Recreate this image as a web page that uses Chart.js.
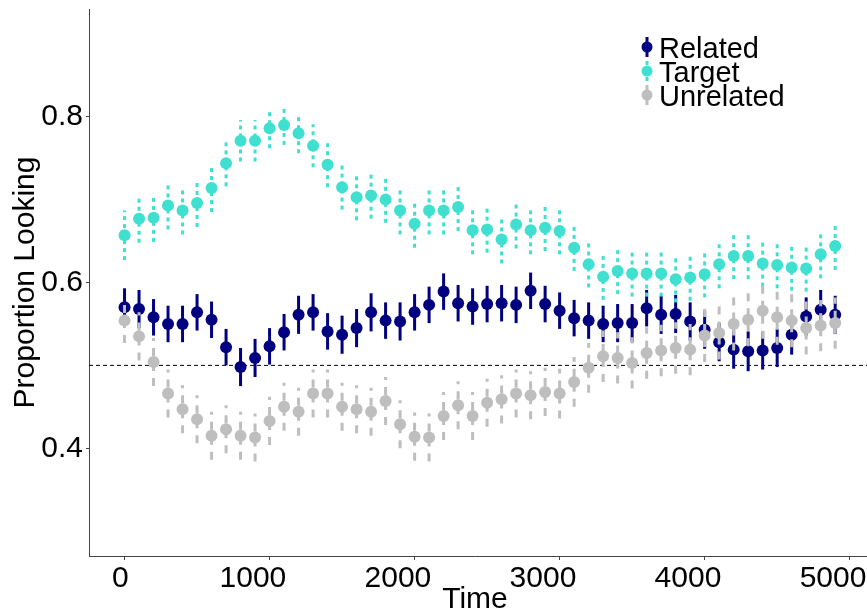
<!DOCTYPE html>
<html>
<head>
<meta charset="utf-8">
<script src="https://cdn.jsdelivr.net/npm/chart.js@4"></script>
<style>
html, body { margin: 0; padding: 0; background: #fff; }
</style>
</head>
<body>
<canvas id="myChart" width="867" height="615"></canvas>
<script>
// data
const times = [0, 100, 200, 300, 400, 500, 600, 700, 800, 900,
    1000, 1100, 1200, 1300, 1400, 1500, 1600, 1700, 1800, 1900,
    2000, 2100, 2200, 2300, 2400, 2500, 2600, 2700, 2800, 2900,
    3000, 3100, 3200, 3300, 3400, 3500, 3600, 3700, 3800, 3900,
    4000, 4100, 4200, 4300, 4400, 4500, 4600, 4700, 4800, 4900];

const related = [0.570, 0.568, 0.558, 0.550, 0.550, 0.564, 0.555, 0.522, 0.498, 0.509,
    0.523, 0.540, 0.561, 0.564, 0.541, 0.537, 0.545, 0.564, 0.554, 0.553,
    0.564, 0.573, 0.589, 0.575, 0.571, 0.574, 0.575, 0.573, 0.590, 0.574,
    0.566, 0.557, 0.554, 0.550, 0.551, 0.551, 0.569, 0.561, 0.562, 0.553,
    0.543, 0.528, 0.519, 0.517, 0.518, 0.521, 0.537, 0.559, 0.567, 0.561];
const relatedErr = [0.023, 0.023, 0.022, 0.022, 0.022, 0.022, 0.022, 0.022, 0.023, 0.023,
    0.022, 0.022, 0.023, 0.022, 0.022, 0.023, 0.023, 0.023, 0.022, 0.023,
    0.022, 0.022, 0.022, 0.022, 0.022, 0.022, 0.022, 0.022, 0.022, 0.022,
    0.022, 0.022, 0.022, 0.022, 0.023, 0.023, 0.022, 0.023, 0.023, 0.023,
    0.023, 0.023, 0.023, 0.024, 0.023, 0.023, 0.024, 0.023, 0.024, 0.023];

const target = [0.657, 0.677, 0.678, 0.693, 0.687, 0.696, 0.714, 0.744, 0.771, 0.771,
    0.786, 0.790, 0.780, 0.765, 0.742, 0.715, 0.703, 0.705, 0.700, 0.687,
    0.671, 0.687, 0.687, 0.691, 0.663, 0.664, 0.652, 0.670, 0.663, 0.666,
    0.662, 0.642, 0.622, 0.607, 0.614, 0.611, 0.611, 0.611, 0.604, 0.606,
    0.610, 0.622, 0.632, 0.632, 0.623, 0.621, 0.618, 0.617, 0.634, 0.644];
const targetErr = [0.030, 0.029, 0.029, 0.029, 0.029, 0.029, 0.029, 0.028, 0.025, 0.025,
    0.024, 0.024, 0.024, 0.026, 0.027, 0.027, 0.028, 0.028, 0.028, 0.029,
    0.029, 0.029, 0.029, 0.029, 0.029, 0.028, 0.029, 0.029, 0.029, 0.028,
    0.028, 0.028, 0.028, 0.028, 0.028, 0.028, 0.028, 0.028, 0.028, 0.028,
    0.028, 0.029, 0.028, 0.028, 0.028, 0.028, 0.028, 0.028, 0.029, 0.029];

const unrelated = [0.554, 0.535, 0.504, 0.466, 0.447, 0.435, 0.415, 0.423, 0.415, 0.413,
    0.433, 0.450, 0.444, 0.466, 0.466, 0.450, 0.447, 0.444, 0.457, 0.429,
    0.414, 0.413, 0.439, 0.452, 0.439, 0.455, 0.459, 0.466, 0.464, 0.468,
    0.466, 0.480, 0.497, 0.511, 0.509, 0.503, 0.515, 0.518, 0.521, 0.519,
    0.536, 0.539, 0.550, 0.555, 0.566, 0.558, 0.554, 0.545, 0.548, 0.551];
const unrelatedErr = [0.027, 0.029, 0.029, 0.029, 0.029, 0.029, 0.029, 0.029, 0.029, 0.029,
    0.029, 0.029, 0.029, 0.029, 0.029, 0.029, 0.029, 0.029, 0.029, 0.029,
    0.029, 0.029, 0.029, 0.029, 0.029, 0.029, 0.029, 0.029, 0.029, 0.029,
    0.030, 0.030, 0.030, 0.031, 0.031, 0.031, 0.031, 0.031, 0.031, 0.031,
    0.032, 0.032, 0.032, 0.032, 0.034, 0.033, 0.032, 0.032, 0.031, 0.031];

const xTicks = [0, 1000, 2000, 3000, 4000, 5000];
const yTicks = [0.4, 0.6, 0.8];
const chanceLevel = 0.5;

const toPoints = vals => vals.map((v, i) => ({ x: times[i], y: v }));

Chart.defaults.font.family = "'Liberation Sans', Arial, sans-serif";
Chart.defaults.color = '#000';

// vertical error bars, drawn just before each dataset's points
const errorBars = {
    id: 'errorBars',
    beforeDatasetDraw(chart, args) {
        const ds = chart.data.datasets[args.index];
        const xs = chart.scales.x, ys = chart.scales.y;
        const c = chart.ctx;
        const area = chart.chartArea;
        c.save();
        c.beginPath();
        c.rect(area.left, area.top, area.right - area.left, area.bottom - area.top);
        c.clip();
        c.strokeStyle = ds.pointBackgroundColor;
        c.lineWidth = 3;
        c.lineCap = 'butt';
        c.setLineDash(ds.errDash);
        ds.data.forEach((p, i) => {
            const px = xs.getPixelForValue(p.x);
            c.beginPath();
            c.moveTo(px, ys.getPixelForValue(p.y - ds.err[i]));
            c.lineTo(px, ys.getPixelForValue(p.y + ds.err[i]));
            c.stroke();
        });
        c.restore();
    }
};

// dashed line at chance level, and the x axis line carried to the edge
const refLine = {
    id: 'refLine',
    beforeDatasetsDraw(chart) {
        const c = chart.ctx;
        const area = chart.chartArea;
        const py = chart.scales.y.getPixelForValue(chanceLevel);
        c.save();
        c.strokeStyle = '#000';
        c.lineWidth = 1;
        c.setLineDash([4, 3]);
        c.beginPath();
        c.moveTo(area.left, py);
        c.lineTo(chart.width, py);
        c.stroke();
        c.setLineDash([]);
        c.strokeStyle = '#444';
        c.beginPath();
        c.moveTo(area.right, area.bottom + 0.5);
        c.lineTo(chart.width, area.bottom + 0.5);
        c.stroke();
        c.restore();
    }
};

const legendBox = {
    id: 'legendBox',
    afterDraw(chart) {
        const c = chart.ctx;
        c.save();
        chart.data.datasets.forEach((ds, i) => {
            const cy = 47 + 24 * i;
            c.strokeStyle = ds.pointBackgroundColor;
            c.lineWidth = 3;
            c.setLineDash(ds.errDash);
            c.beginPath();
            c.moveTo(647, cy + 10);
            c.lineTo(647, cy - 10);
            c.stroke();
            c.setLineDash([]);
            c.fillStyle = ds.pointBackgroundColor;
            c.beginPath();
            c.arc(647, cy, 5.5, 0, Math.PI * 2);
            c.fill();
            c.fillStyle = '#000';
            c.font = "29px 'Liberation Sans', Arial, sans-serif";
            c.textBaseline = 'alphabetic';
            c.fillText(ds.label, 659, cy + 11);
        });
        c.restore();
    }
};

const ctx = document.getElementById('myChart');

new Chart(ctx, {
    type: 'line',
    data: {
        datasets: [{
            label: 'Related',
            data: toPoints(related),
            err: relatedErr,
            errDash: [],
            pointBackgroundColor: '#000080',
            order: 3
        }, {
            label: 'Target',
            data: toPoints(target),
            err: targetErr,
            errDash: [4, 4],
            pointBackgroundColor: '#40E0D0',
            order: 2
        }, {
            label: 'Unrelated',
            data: toPoints(unrelated),
            err: unrelatedErr,
            errDash: [8, 7],
            pointBackgroundColor: '#BEBEBE',
            order: 1
        }]
    },
    options: {
        responsive: false,
        animation: false,
        showLine: false,
        elements: {
            point: { radius: 6, borderWidth: 0, hoverRadius: 6 }
        },
        layout: { padding: { top: 9, left: 0, right: 0, bottom: 0 } },
        plugins: {
            legend: { display: false },
            tooltip: { enabled: false }
        },
        scales: {
            x: {
                type: 'linear',
                min: -245,
                max: 5078,
                afterBuildTicks: s => { s.ticks = xTicks.map(v => ({ value: v })); },
                afterFit: s => { s.height = 59; s.paddingLeft = 0; s.paddingRight = 0; },
                ticks: {
                    font: { size: 30 },
                    color: '#000',
                    padding: 1,
                    maxRotation: 0,
                    autoSkip: false,
                    callback: v => v + ' '.repeat(String(v).length)
                },
                grid: { drawOnChartArea: false, drawTicks: true, tickLength: 4, color: '#444' },
                border: { display: true, color: '#444', width: 1 },
                title: {
                    display: true,
                    text: 'Time',
                    font: { size: 30, lineHeight: 1 },
                    color: '#000',
                    padding: { top: 0, bottom: 0 }
                }
            },
            y: {
                min: 0.27,
                max: 0.93,
                afterBuildTicks: s => { s.ticks = yTicks.map(v => ({ value: v })); },
                afterFit: s => { s.width = 89; s.paddingTop = 0; s.paddingBottom = 0; },
                ticks: {
                    font: { size: 30 },
                    color: '#000',
                    padding: 3,
                    callback: v => v.toFixed(1)
                },
                grid: { drawOnChartArea: false, drawTicks: true, tickLength: 3, color: '#444' },
                border: { display: true, color: '#444', width: 1 },
                title: {
                    display: true,
                    text: 'Proportion Looking',
                    font: { size: 30, lineHeight: 1.2 },
                    color: '#000',
                    padding: { top: 8, bottom: 0 }
                }
            }
        }
    },
    plugins: [refLine, errorBars, legendBox]
});
</script>
</body>
</html>
